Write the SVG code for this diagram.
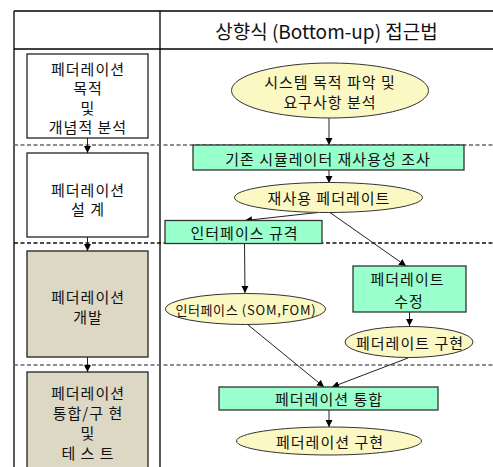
<svg xmlns="http://www.w3.org/2000/svg" width="493" height="467" viewBox="0 0 493 467">
<defs>
<marker id="ah" markerWidth="8" markerHeight="8" refX="7" refY="4" orient="auto" markerUnits="userSpaceOnUse">
<path d="M0,0.5 L7,4 L0,7.5 Z" fill="#000"/>
</marker>
<style>
text{font-family:"Noto Sans CJK KR","Noto Sans",sans-serif;fill:#111;text-anchor:middle;dominant-baseline:central;font-size:15px;letter-spacing:1px}
.stage{stroke:#222;stroke-width:1.3}
.w{fill:#fff}
.b{fill:#ddd8c4}
.rect{fill:#99ffcc;stroke:#333;stroke-width:1.3}
.ell{fill:#fcf8c4;stroke:#333;stroke-width:1}
.grid{stroke:#000;stroke-width:1.3;fill:none}
.dash{stroke:#666;stroke-width:1.3;stroke-dasharray:4 2.5;fill:none}
.conn{stroke:#222;stroke-width:1;fill:none;marker-end:url(#ah)}
</style>
</defs>
<rect width="493" height="467" fill="#fff"/>
<g id="table">
<line class="grid" x1="14" y1="11" x2="493" y2="11"/>
<line class="grid" x1="14" y1="11" x2="14" y2="467"/>
<line class="grid" x1="160" y1="11" x2="160" y2="467"/>
<line class="grid" x1="14" y1="49" x2="493" y2="49"/>
<line class="dash" x1="14" y1="145" x2="493" y2="145"/>
<line class="dash" x1="14" y1="243" x2="493" y2="243" style="stroke:#111"/>
<line class="dash" x1="14" y1="365" x2="493" y2="365"/>
<text x="326.5" y="30" style="font-size:19px;letter-spacing:0px">상향식 (Bottom-up) 접근법</text>
</g>
<g id="connectors">
<line class="conn" x1="87.5" y1="138" x2="87.5" y2="153"/>
<line class="conn" x1="87.5" y1="237" x2="87.5" y2="251"/>
<line class="conn" x1="87.5" y1="357" x2="87.5" y2="372"/>
<line class="conn" x1="329" y1="118" x2="329" y2="145"/>
<line class="conn" x1="329" y1="170" x2="329" y2="183"/>
<line class="conn" x1="318" y1="212.5" x2="245" y2="220.5"/>
<line class="conn" x1="330" y1="212.5" x2="406" y2="266"/>
<line class="conn" x1="244.5" y1="243" x2="245" y2="293"/>
<line class="conn" x1="409.5" y1="312" x2="409.5" y2="326"/>
<line class="conn" x1="247" y1="324" x2="324" y2="387"/>
<line class="conn" x1="408" y1="358" x2="332" y2="387"/>
<line class="conn" x1="329" y1="410" x2="329" y2="427"/>
</g>
<g id="stage1">
<rect class="stage w" x="27" y="54" width="121" height="84"/>
<text x="88" y="68">페더레이션</text>
<text x="88" y="87.5">목적</text>
<text x="88" y="107">및</text>
<text x="88" y="126.5">개념적 분석</text>
</g>
<g id="stage2">
<rect class="stage w" x="27" y="153" width="121" height="84"/>
<text x="88" y="189">페더레이션</text>
<text x="88" y="208.5">설 계</text>
</g>
<g id="stage3">
<rect class="stage b" x="27" y="251" width="121" height="106"/>
<text x="88" y="296.5">페더레이션</text>
<text x="88" y="316">개발</text>
</g>
<g id="stage4">
<rect class="stage b" x="27" y="372" width="121" height="100"/>
<text x="88" y="392">페더레이션</text>
<text x="88" y="412">통합/구 현</text>
<text x="88" y="432">및</text>
<text x="88" y="452">테 스 트</text>
</g>
<g id="n-req">
<ellipse class="ell" cx="330" cy="90.5" rx="98.5" ry="27.5"/>
<text x="330" y="81">시스템 목적 파악 및</text>
<text x="330" y="101">요구사항 분석</text>
</g>
<g id="n-survey">
<rect class="rect" x="193" y="145" width="271" height="25"/>
<text x="328" y="158">기존 시뮬레이터 재사용성 조사</text>
</g>
<g id="n-reuse">
<ellipse class="ell" cx="328.5" cy="197.5" rx="94" ry="15"/>
<text x="329" y="197.5">재사용 페더레이트</text>
</g>
<g id="n-ifspec">
<rect class="rect" x="165" y="220.5" width="157" height="23"/>
<text x="244.5" y="232">인터페이스 규격</text>
</g>
<g id="n-modify">
<rect class="rect" x="353" y="266" width="113" height="46"/>
<text x="407.5" y="278.5">페더레이트</text>
<text x="409" y="300">수정</text>
</g>
<g id="n-som">
<ellipse class="ell" cx="245.5" cy="309" rx="80" ry="15.5"/>
<text x="246" y="309" style="font-size:13px;letter-spacing:0.6px">인터페이스 <tspan style="letter-spacing:0.8px">(SOM,FOM)</tspan></text>
</g>
<g id="n-fedimpl">
<ellipse class="ell" cx="409" cy="342" rx="64" ry="15.5"/>
<text x="410" y="342">페더레이트 구현</text>
</g>
<g id="n-integ">
<rect class="rect" x="219" y="387" width="219" height="23"/>
<text x="329" y="398.5">페더레이션 통합</text>
</g>
<g id="n-fedimpl2">
<ellipse class="ell" cx="329" cy="441" rx="92.5" ry="14"/>
<text x="330" y="441">페더레이션 구현</text>
</g>
</svg>
